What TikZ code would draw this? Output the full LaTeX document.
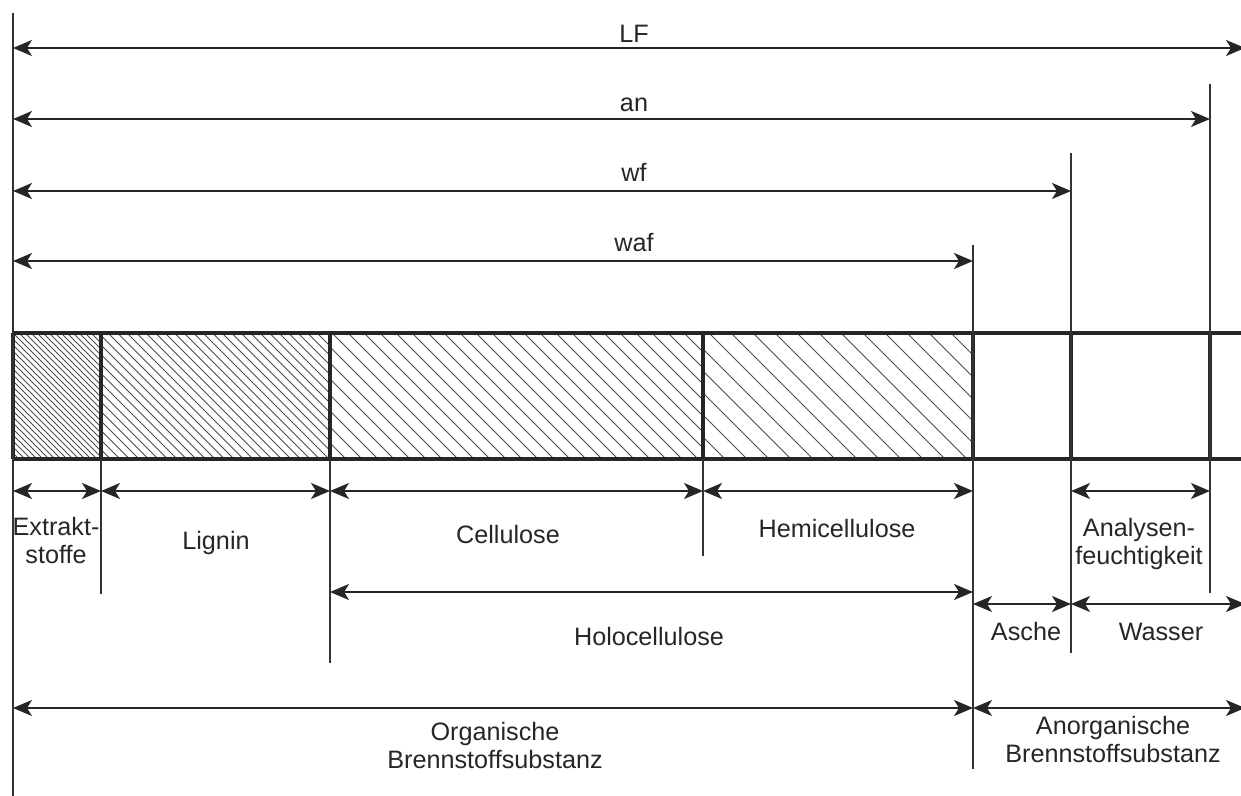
\documentclass[tikz,border=0pt]{standalone}
\usepackage{fontspec}
\setmainfont{Liberation Sans}
\usetikzlibrary{arrows.meta}

\tikzset{
  dimarrow/.style={{Stealth[length=9.5pt,width=8pt,inset=2.5pt]}-{Stealth[length=9.5pt,width=8pt,inset=2.5pt]},
    line width=1pt, draw=black!85},
  tickline/.style={line width=0.75pt, draw=black!80},
  barline/.style={line width=2.3pt, draw=black!85},
  hatchline/.style={line width=0.5pt, draw=black!70},
  lbl/.style={anchor=base, inner sep=0pt, align=center, text=black!85,
    font=\fontsize{12.6}{14}\selectfont}
}

\begin{document}
\begin{tikzpicture}[x=0.5pt,y=-0.5pt]
		\useasboundingbox (0,0) rectangle (1241,796);
		
		% hatching of the organic parts
		\foreach \xa/\xb/\s in {13/101/6, 101/330/9.5, 330/703/16, 703/973/22}{
			\begin{scope}
				\clip (\xa,333) rectangle (\xb,459);
				\foreach \k in {0,...,40}
					\draw[hatchline] ({\xa-126+\k*\s},333) -- ++(126,126);
			\end{scope}
		}
		
		% bar
		\draw[barline] (13,333) -- (1250,333);
		\draw[barline] (13,459) -- (1250,459);
		\foreach \x in {13,101,330,703,973,1071,1210}
			\draw[barline] (\x,333) -- (\x,459);
		
		% extension lines
		\foreach \n/\x/\ya/\yb in {e0/13/13/796, e1/101/459/594, e2/330/459/663,
				e3/703/459/556, e4/973/245/769, e5/1071/153/653, e6/1210/84/593}{
			\coordinate (\n-t) at (\x,\ya);
			\coordinate (\n-b) at (\x,\yb);
			\draw[tickline] (\n-t) -- (\n-b);
		}
		
		% dimension arrows
		\foreach \n/\xa/\xb/\y in {lf/13/1245/48, an/13/1210/119, wf/13/1071/191,
				waf/13/973/261, ex/13/101/491, lig/101/330/491, cel/330/703/491,
				hem/703/973/491, afe/1071/1210/491, hol/330/973/592,
				asc/973/1071/604, was/1071/1245/604, org/13/973/708, ano/973/1245/708}{
			\coordinate (\n-l) at (\xa,\y);
			\coordinate (\n-r) at (\xb,\y);
			\draw[dimarrow] (\n-l) -- (\n-r);
		}
		
		% labels
		\node[lbl] (lf) at (634,43) {LF};
		\node[lbl] (an) at (634,112) {an};
		\node[lbl] (wf) at (634,182) {wf};
		\node[lbl] (waf) at (634,252) {waf};
		
		\node[lbl] (extrakt) at (56,563) {Extrakt-\\stoffe};
		\node[lbl] (lignin) at (216,549) {Lignin};
		\node[lbl] (cellulose) at (508,543) {Cellulose};
		\node[lbl] (hemi) at (837,537) {Hemicellulose};
		\node[lbl] (analysen) at (1139,564) {Analysen-\\feuchtigkeit};
		\node[lbl] (holo) at (649,645) {Holocellulose};
		\node[lbl] (asche) at (1026,640) {Asche};
		\node[lbl] (wasser) at (1161,640) {Wasser};
		\node[lbl] (organisch) at (495,768) {Organische\\Brennstoffsubstanz};
		\node[lbl] (anorganisch) at (1113,762) {Anorganische\\Brennstoffsubstanz};
\end{tikzpicture}
\end{document}
